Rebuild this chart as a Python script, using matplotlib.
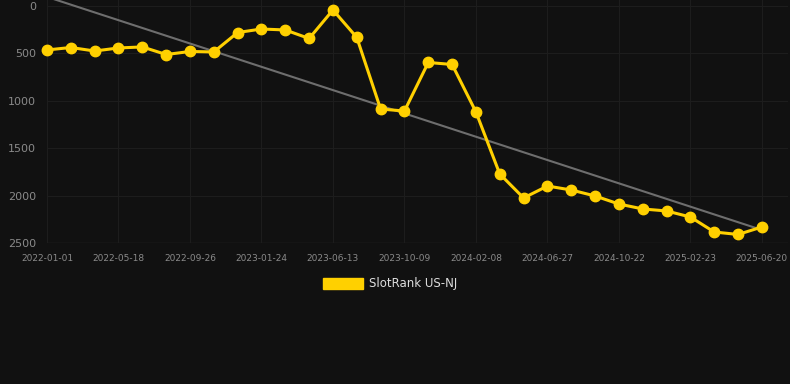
import numpy as np
import matplotlib
matplotlib.use("Agg")
import matplotlib.pyplot as plt
from matplotlib.patches import Patch

# rank values (lower = better, axis inverted)
ranks = [464, 438, 475, 443, 432, 512, 480, 485, 280, 243, 253, 343, 42, 332,
         1087, 1108, 596, 617, 1118, 1772, 2025, 1899, 1941, 2004, 2089, 2141,
         2162, 2226, 2384, 2410, 2331]
tick_labels = ["2022-01-01", "2022-05-18", "2022-09-26", "2023-01-24",
               "2023-06-13", "2023-10-09", "2024-02-08", "2024-06-27",
               "2024-10-22", "2025-02-23", "2025-06-20"]
y_ticks = [0, 500, 1000, 1500, 2000, 2500]
series_name = "SlotRank US-NJ"

bg = "#111111"
yellow = "#FFD000"

x = np.arange(len(ranks))

fig = plt.figure(figsize=(7.9, 3.84), dpi=100, facecolor=bg)
W, H = 790, 384
ax = fig.add_axes([47 / W, 1 - 243 / H, (788 - 47) / W, 243 / H])
ax.set_facecolor(bg)

# trend line (linear fit)
k, b = np.polyfit(x, ranks, 1)
ax.plot(x, k * x + b, color="#6e6e6e", lw=1.5, zorder=2, clip_on=False)

ax.plot(x, ranks, color=yellow, lw=2.2, marker="o", markersize=7.5,
        zorder=3, clip_on=False)

ax.set_xlim(0, (788 - 47) / 23.83)
ax.set_ylim(2500, -63)
ax.set_yticks(y_ticks)
ax.set_xticks(x[::3])
ax.set_xticklabels(tick_labels)

ax.grid(True, color="#1d1d1d", lw=0.8)
ax.axhline(2500, color="#2a2a2a", lw=1, zorder=1)
for s in ax.spines.values():
    s.set_visible(False)
ax.tick_params(axis="y", length=0, pad=8, labelsize=8, labelcolor="#8a8a8a")
ax.tick_params(axis="x", length=0, pad=8, labelsize=6.5, labelcolor="#8a8a8a")

fig.legend(handles=[Patch(facecolor=yellow, edgecolor=yellow, label=series_name)],
           loc="center", bbox_to_anchor=(390 / W, 1 - 284 / H), frameon=False,
           handlelength=3.4, handleheight=1.0, fontsize=8.5, labelcolor="#dddddd",
           handletextpad=0.55)

fig.savefig("out.png", dpi=100, facecolor=bg)
